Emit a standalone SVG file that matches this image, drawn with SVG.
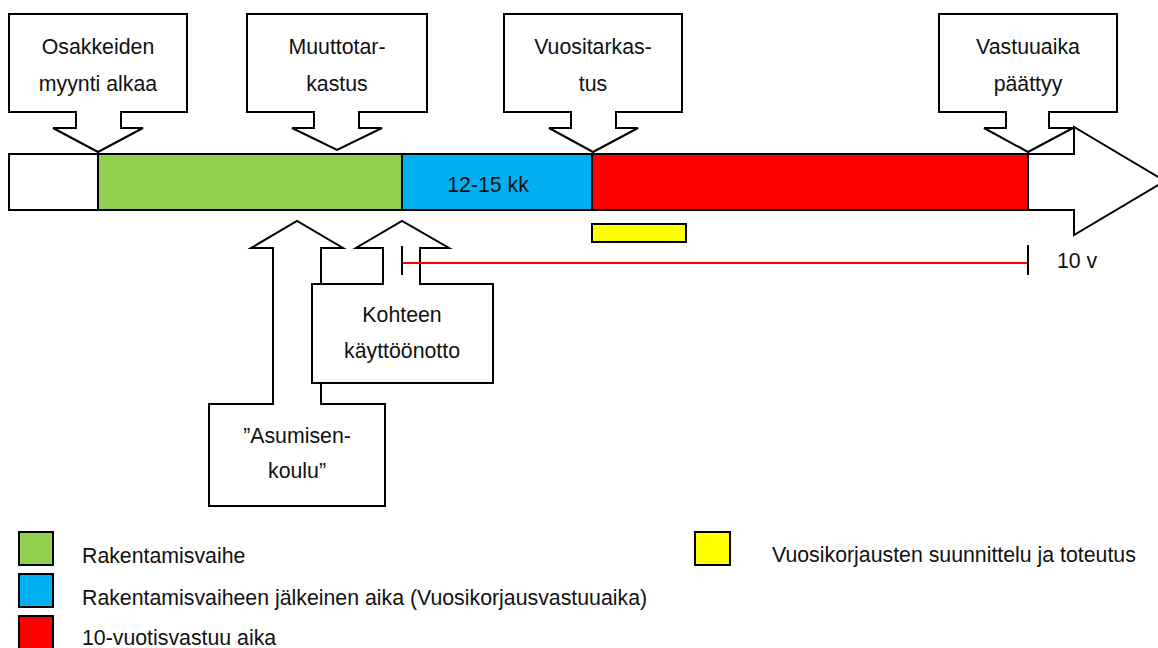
<svg xmlns="http://www.w3.org/2000/svg" width="1158" height="648" viewBox="0 0 1158 648">
  <style>
    .shape { fill: #FFFFFF; stroke: #000000; stroke-width: 2; stroke-linejoin: miter; }
    .phase { stroke: #000000; stroke-width: 2; }
    .green { fill: #92D050; }
    .blue { fill: #00B0F0; }
    .red { fill: #FF0000; }
    .yellow { fill: #FFFF00; }
    .lbl { font-family: "Liberation Sans", Arial, sans-serif; font-size: 21.3px; fill: #111111; }
    .mid { text-anchor: middle; }
    .tick { stroke: #000000; stroke-width: 2; }
    .span { stroke: #FF0000; stroke-width: 2; }
  </style>

  <rect width="1158" height="648" fill="#FFFFFF"/>

  <!-- time axis: long block arrow with the phases laid on top -->
  <g id="timeline">
    <polygon class="shape" points="9,154 1074,154 1074,127 1165,181 1074,235 1074,210 9,210"/>
    <rect class="phase green" x="98" y="154" width="304" height="56"/>
    <rect class="phase blue" x="402" y="154" width="190" height="56"/>
    <rect class="phase red" x="592" y="154" width="436" height="56"/>
    <text class="lbl mid" x="488" y="192">12-15 kk</text>
  </g>

  <g id="annual-repairs">
    <rect class="phase yellow" x="592" y="224" width="94" height="18"/>
  </g>

  <!-- downward callouts above the axis -->
  <g id="sales-start">
    <polygon class="shape" points="9,14 187,14 187,112 121,112 121,128 143,128 98,152 53,128 76,128 76,112 9,112"/>
    <text class="lbl mid" x="98" y="54">Osakkeiden</text>
    <text class="lbl mid" x="98" y="91">myynti alkaa</text>
  </g>
  <g id="move-in-inspection">
    <polygon class="shape" points="247,14 427,14 427,112 359,112 359,128 382,128 337,150 292,128 314,128 314,112 247,112"/>
    <text class="lbl mid" x="337" y="54">Muuttotar-</text>
    <text class="lbl mid" x="337" y="91">kastus</text>
  </g>
  <g id="annual-inspection">
    <polygon class="shape" points="504,14 682,14 682,112 616,112 616,128 638,128 593,152 549,128 571,128 571,112 504,112"/>
    <text class="lbl mid" x="593" y="54">Vuositarkas-</text>
    <text class="lbl mid" x="593" y="91">tus</text>
  </g>
  <g id="liability-end">
    <polygon class="shape" points="939,14 1117,14 1117,112 1049,112 1049,128 1073,128 1028,152 984,128 1006,128 1006,112 939,112"/>
    <text class="lbl mid" x="1028" y="54">Vastuuaika</text>
    <text class="lbl mid" x="1028" y="91">päättyy</text>
  </g>

  <!-- upward callouts below the axis -->
  <g id="housing-school">
    <polygon class="shape" points="209,506 385,506 385,404 321,404 321,248 343,248 297,221 251,248 273,248 273,404 209,404"/>
    <text class="lbl mid" x="297" y="443">”Asumisen-</text>
    <text class="lbl mid" x="297" y="478">koulu”</text>
  </g>
  <g id="commissioning">
    <polygon class="shape" points="312,383 493,383 493,284 420,284 420,248 449,248 402,221 356,248 383,248 383,284 312,284"/>
    <text class="lbl mid" x="402" y="322">Kohteen</text>
    <text class="lbl mid" x="402" y="358">käyttöönotto</text>
  </g>

  <!-- ten-year span measure, drawn over the callout stem -->
  <g id="connectors">
    <line class="span" x1="402" y1="263" x2="1028" y2="263"/>
    <line class="tick" x1="402" y1="246" x2="402" y2="275"/>
    <line class="tick" x1="1028" y1="245" x2="1028" y2="275"/>
  </g>
  <g id="span-label">
    <text class="lbl" x="1057" y="268">10 v</text>
  </g>

  <!-- legend -->
  <g id="legend">
    <rect class="phase green" x="19" y="532" width="34" height="33"/>
    <text class="lbl" x="82" y="563">Rakentamisvaihe</text>
    <rect class="phase blue" x="19" y="574" width="34" height="33"/>
    <text class="lbl" x="82" y="605">Rakentamisvaiheen jälkeinen aika (Vuosikorjausvastuuaika)</text>
    <rect class="phase red" x="19" y="616" width="34" height="33"/>
    <text class="lbl" x="82" y="645">10-vuotisvastuu aika</text>
    <rect class="phase yellow" x="695" y="532" width="35" height="33"/>
    <text class="lbl" x="772" y="562">Vuosikorjausten suunnittelu ja toteutus</text>
  </g>
</svg>
